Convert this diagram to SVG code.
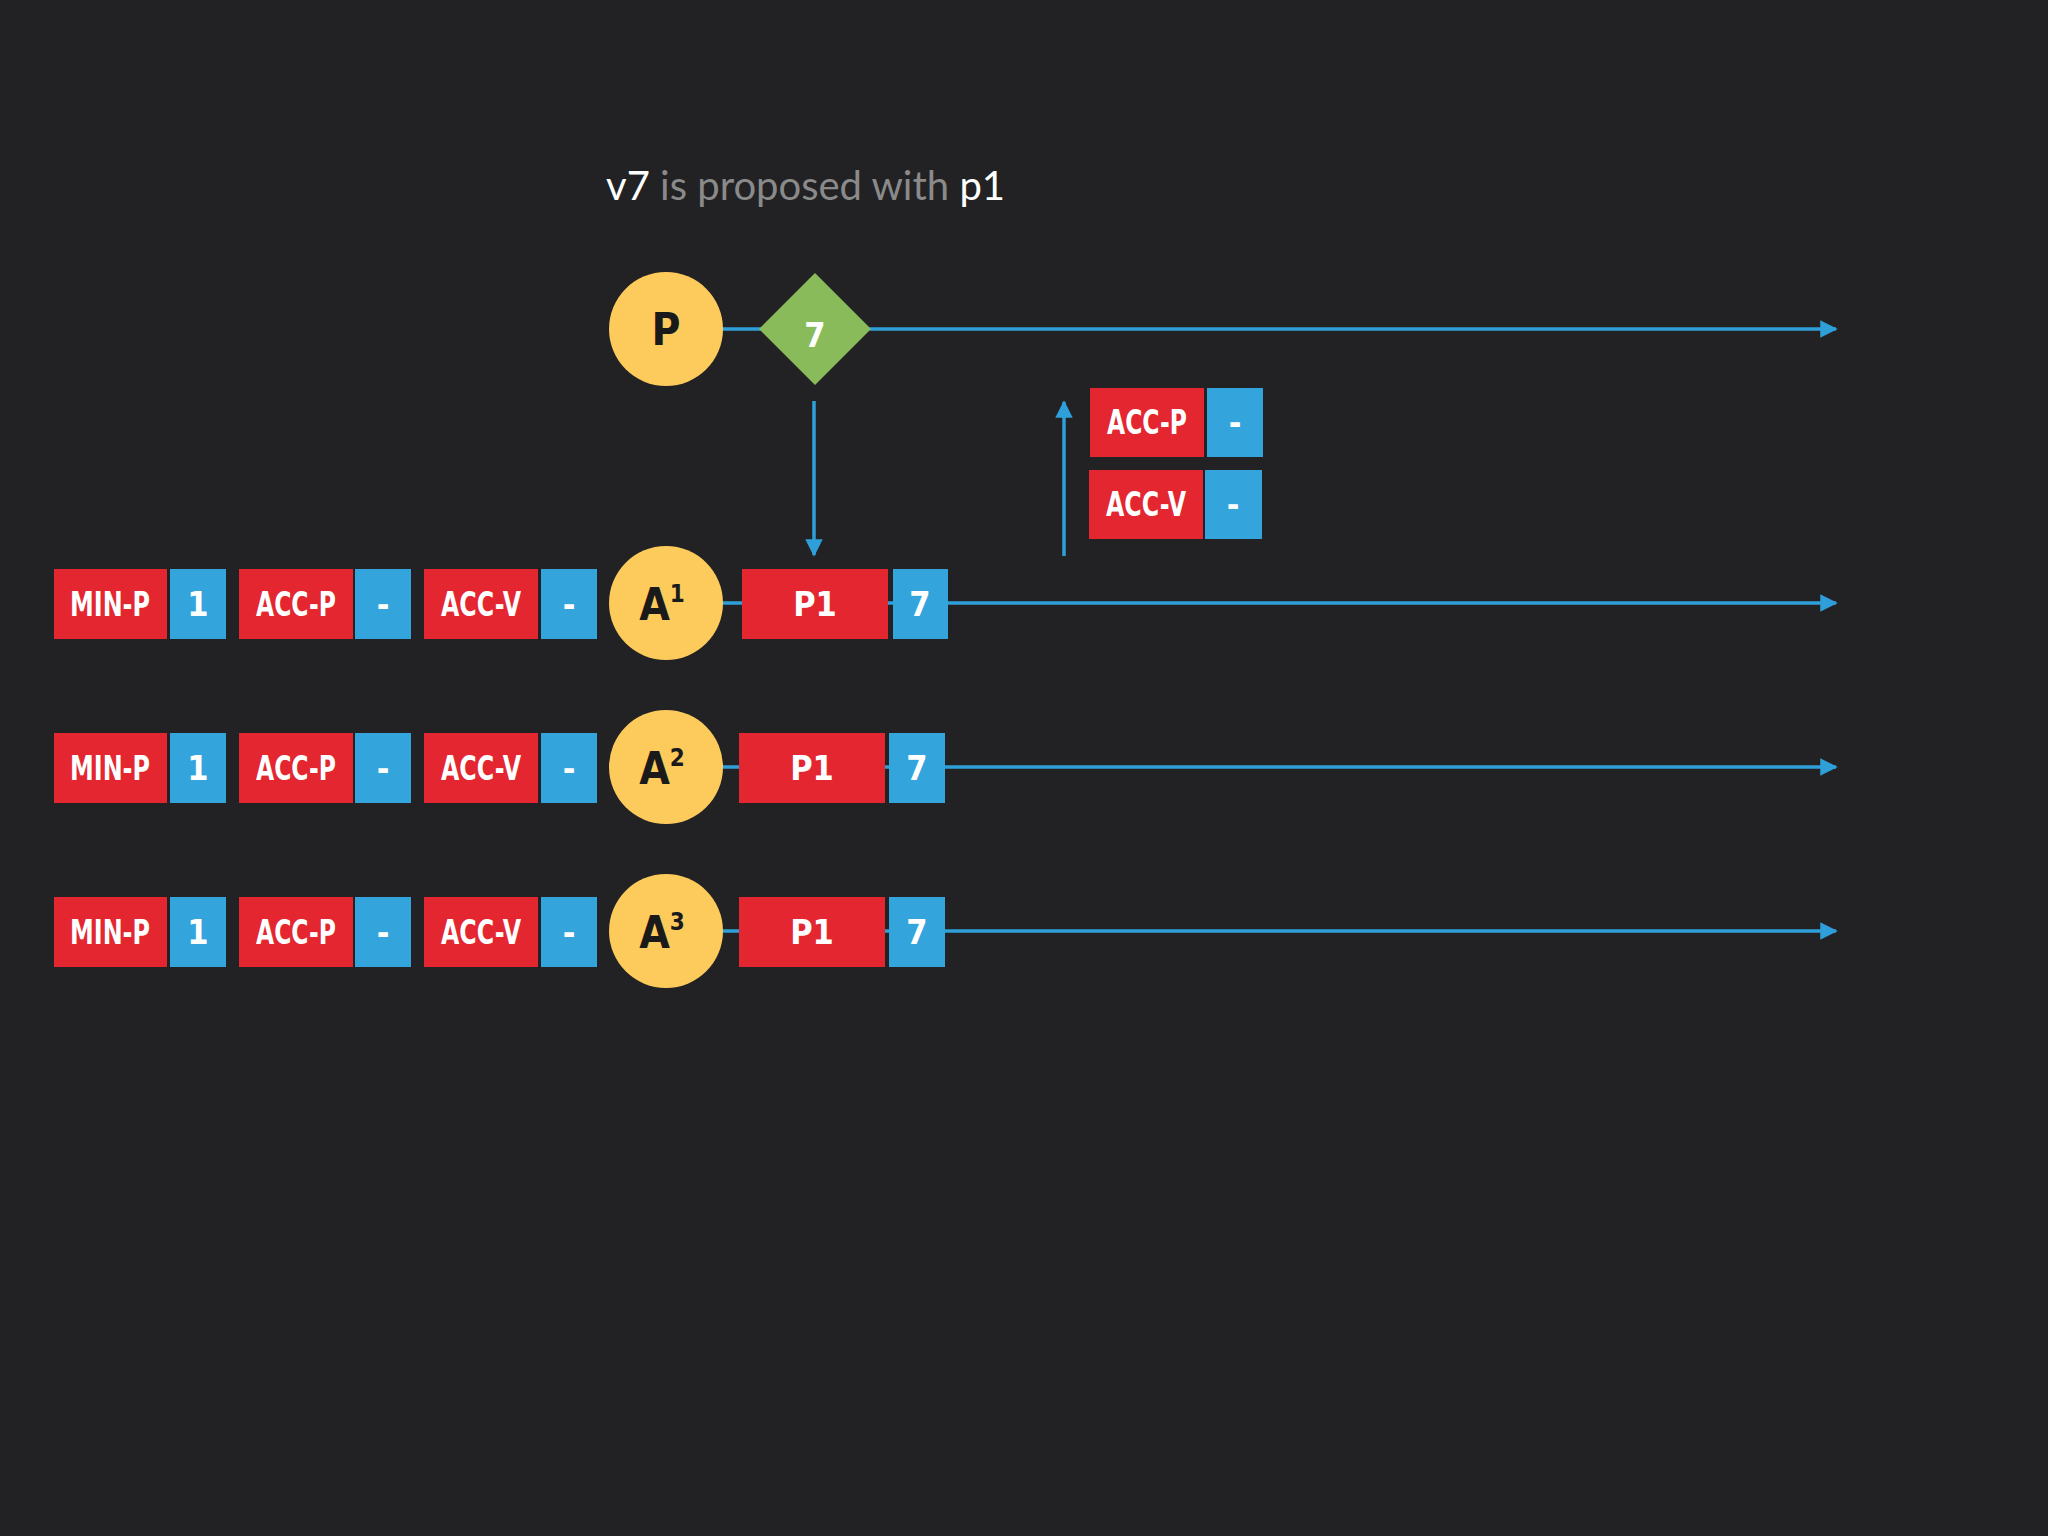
<svg xmlns="http://www.w3.org/2000/svg" width="2048" height="1536" viewBox="0 0 2048 1536">
<defs>
<marker id="ah" viewBox="0 0 10 10" refX="9" refY="5" markerWidth="5" markerHeight="5" orient="auto" markerUnits="strokeWidth"><path d="M0,0 L10,5 L0,10 z" fill="#2e9fd8"/></marker>
<style>
.r{fill:#e3262f}.b{fill:#34a4dc}.c{fill:#fdcb5c}
.t{font-family:"DejaVu Sans Condensed","DejaVu Sans",sans-serif;font-weight:bold;font-size:34px;fill:#fff;text-anchor:middle}
.k{fill:#1a1a1a;font-size:44px}
.ln{stroke:#2e9fd8;stroke-width:3.5;fill:none}
</style>
</defs>
<rect width="2048" height="1536" fill="#222224"/>
<text x="606" y="200" font-family="Lato,'Open Sans',sans-serif" font-size="40" fill="#8a8a8a"><tspan fill="#fff">v7</tspan> is proposed with <tspan fill="#fff">p1</tspan></text>
<g id="connectors">
<line class="ln" x1="666" y1="329" x2="1836" y2="329" marker-end="url(#ah)"/>
<line class="ln" x1="814" y1="401" x2="814" y2="555" marker-end="url(#ah)"/>
<line class="ln" x1="1064" y1="556" x2="1064" y2="402" marker-end="url(#ah)"/>
<line class="ln" x1="666" y1="603" x2="1836" y2="603" marker-end="url(#ah)"/>
<line class="ln" x1="666" y1="767" x2="1836" y2="767" marker-end="url(#ah)"/>
<line class="ln" x1="666" y1="931" x2="1836" y2="931" marker-end="url(#ah)"/>
</g>
<g id="P"><circle class="c" cx="666" cy="329" r="57"/><text class="t k" x="666" y="345">P</text></g>
<g id="v7"><path d="M815,273 L871,329 L815,385 L759,329 z" fill="#8abb5a"/><text class="t" x="815" y="347" font-size="44">7</text></g>
<g id="msg">
<rect class="r" x="1090" y="388" width="114" height="69"/><rect class="b" x="1207" y="388" width="56" height="69"/>
<text class="t" x="1147" y="434" textLength="80" lengthAdjust="spacingAndGlyphs">ACC-P</text><text class="t" x="1235" y="434">-</text>
<rect class="r" x="1089" y="470" width="114" height="69"/><rect class="b" x="1205" y="470" width="57" height="69"/>
<text class="t" x="1146" y="516" textLength="80" lengthAdjust="spacingAndGlyphs">ACC-V</text><text class="t" x="1233" y="516">-</text>
</g>
<g id="A1">
<rect class="r" x="54" y="569" width="113" height="70"/><rect class="b" x="170" y="569" width="56" height="70"/>
<text class="t" x="110" y="616" textLength="80" lengthAdjust="spacingAndGlyphs">MIN-P</text><text class="t" x="198" y="616">1</text>
<rect class="r" x="239" y="569" width="114" height="70"/><rect class="b" x="355" y="569" width="56" height="70"/>
<text class="t" x="296" y="616" textLength="80" lengthAdjust="spacingAndGlyphs">ACC-P</text><text class="t" x="383" y="616">-</text>
<rect class="r" x="424" y="569" width="114" height="70"/><rect class="b" x="541" y="569" width="56" height="70"/>
<text class="t" x="481" y="616" textLength="80" lengthAdjust="spacingAndGlyphs">ACC-V</text><text class="t" x="569" y="616">-</text>
<circle class="c" cx="666" cy="603" r="57"/><text class="t k" x="662" y="620">A<tspan font-size="24" dy="-18">1</tspan></text>
<rect class="r" x="742" y="569" width="146" height="70"/><rect class="b" x="893" y="569" width="55" height="70"/>
<text class="t" x="815" y="616">P1</text><text class="t" x="920" y="616">7</text>
</g>
<g id="A2">
<rect class="r" x="54" y="733" width="113" height="70"/><rect class="b" x="170" y="733" width="56" height="70"/>
<text class="t" x="110" y="780" textLength="80" lengthAdjust="spacingAndGlyphs">MIN-P</text><text class="t" x="198" y="780">1</text>
<rect class="r" x="239" y="733" width="114" height="70"/><rect class="b" x="355" y="733" width="56" height="70"/>
<text class="t" x="296" y="780" textLength="80" lengthAdjust="spacingAndGlyphs">ACC-P</text><text class="t" x="383" y="780">-</text>
<rect class="r" x="424" y="733" width="114" height="70"/><rect class="b" x="541" y="733" width="56" height="70"/>
<text class="t" x="481" y="780" textLength="80" lengthAdjust="spacingAndGlyphs">ACC-V</text><text class="t" x="569" y="780">-</text>
<circle class="c" cx="666" cy="767" r="57"/><text class="t k" x="662" y="784">A<tspan font-size="24" dy="-18">2</tspan></text>
<rect class="r" x="739" y="733" width="146" height="70"/><rect class="b" x="889" y="733" width="56" height="70"/>
<text class="t" x="812" y="780">P1</text><text class="t" x="917" y="780">7</text>
</g>
<g id="A3">
<rect class="r" x="54" y="897" width="113" height="70"/><rect class="b" x="170" y="897" width="56" height="70"/>
<text class="t" x="110" y="944" textLength="80" lengthAdjust="spacingAndGlyphs">MIN-P</text><text class="t" x="198" y="944">1</text>
<rect class="r" x="239" y="897" width="114" height="70"/><rect class="b" x="355" y="897" width="56" height="70"/>
<text class="t" x="296" y="944" textLength="80" lengthAdjust="spacingAndGlyphs">ACC-P</text><text class="t" x="383" y="944">-</text>
<rect class="r" x="424" y="897" width="114" height="70"/><rect class="b" x="541" y="897" width="56" height="70"/>
<text class="t" x="481" y="944" textLength="80" lengthAdjust="spacingAndGlyphs">ACC-V</text><text class="t" x="569" y="944">-</text>
<circle class="c" cx="666" cy="931" r="57"/><text class="t k" x="662" y="948">A<tspan font-size="24" dy="-18">3</tspan></text>
<rect class="r" x="739" y="897" width="146" height="70"/><rect class="b" x="889" y="897" width="56" height="70"/>
<text class="t" x="812" y="944">P1</text><text class="t" x="917" y="944">7</text>
</g>
</svg>
